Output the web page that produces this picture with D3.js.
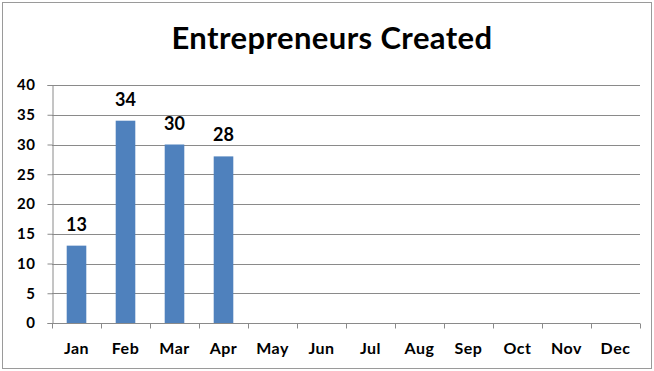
<!DOCTYPE html>
<html>
<head>
<meta charset="utf-8">
<script src="https://cdn.jsdelivr.net/npm/d3@7"></script>
<style>
  html, body { margin: 0; padding: 0; background: #fff; }
  svg { display: block; }
  text { font-family: Lato, "Open Sans", sans-serif; font-weight: bold; fill: #000; }
</style>
</head>
<body>
<svg id="chart" width="654" height="371"></svg>
<script>
const months = ["Jan", "Feb", "Mar", "Apr", "May", "Jun", "Jul", "Aug", "Sep", "Oct", "Nov", "Dec"];
const created = [13, 34, 30, 28, null, null, null, null, null, null, null, null];
const yTicks = [0, 5, 10, 15, 20, 25, 30, 35, 40];
const chartTitle = "Entrepreneurs Created";

const svg = d3.select("#chart");
const W = 654, H = 371;
const margin = { left: 52, right: 14, top: 85, bottom: 48 };

// outer frame
svg.append("rect")
  .attr("x", 2.5).attr("y", 2.5)
  .attr("width", W - 5).attr("height", H - 5)
  .attr("fill", "#fff").attr("stroke", "#9a9a9a").attr("stroke-width", 1);

svg.append("text")
  .attr("x", 332).attr("y", 49)
  .attr("text-anchor", "middle")
  .style("font-size", "31px")
  .style("letter-spacing", "0.4px")
  .text(chartTitle);

const x = d3.scaleBand()
  .domain(months)
  .range([margin.left, W - margin.right])
  .paddingInner(0.6).paddingOuter(0.3);

const y = d3.scaleLinear()
  .domain([0, 40])
  .range([H - margin.bottom, margin.top]);

// horizontal gridlines
svg.append("g")
  .selectAll("line")
  .data(yTicks.filter(d => d > 0))
  .join("line")
  .attr("x1", margin.left).attr("x2", W - margin.right)
  .attr("y1", d => Math.round(y(d)) + 0.5).attr("y2", d => Math.round(y(d)) + 0.5)
  .attr("stroke", "#8a8a8a").attr("stroke-width", 1);

const points = months.map((m, i) => ({ m, v: created[i] })).filter(d => d.v != null);

// bars
svg.append("g")
  .selectAll("rect")
  .data(points)
  .join("rect")
  .attr("x", d => x(d.m))
  .attr("width", x.bandwidth())
  .attr("y", d => y(d.v))
  .attr("height", d => y(0) - y(d.v))
  .attr("fill", "#4f81bd");

// value labels
svg.append("g")
  .selectAll("text")
  .data(points)
  .join("text")
  .attr("x", d => x(d.m) + x.bandwidth() / 2)
  .attr("y", d => y(d.v) - 15)
  .attr("text-anchor", "middle")
  .style("font-size", "18px")
  .text(d => d.v);

// y axis
const yAxis = svg.append("g")
  .attr("transform", `translate(${margin.left + 0.5},0)`)
  .call(d3.axisLeft(y).tickValues(yTicks).tickSize(5).tickPadding(12));
yAxis.selectAll("text").style("font-size", "15px").style("letter-spacing", "0.5px");
yAxis.select(".domain").attr("stroke", "#8a8a8a");
yAxis.selectAll(".tick line").attr("stroke", "#8a8a8a");

// x axis with ticks at category boundaries
const xAxisG = svg.append("g")
  .attr("transform", `translate(0,${Math.round(y(0)) + 0.5})`);
xAxisG.append("line")
  .attr("x1", margin.left).attr("x2", W - margin.right)
  .attr("stroke", "#8a8a8a");
const step = x.step();
const x0 = margin.left;
xAxisG.selectAll("line.tick")
  .data(d3.range(months.length + 1))
  .join("line")
  .attr("class", "tick")
  .attr("x1", i => Math.round(x0 + i * step) + 0.5)
  .attr("x2", i => Math.round(x0 + i * step) + 0.5)
  .attr("y1", 0).attr("y2", 5)
  .attr("stroke", "#8a8a8a");
xAxisG.selectAll("text")
  .data(months)
  .join("text")
  .attr("x", d => x(d) + x.bandwidth() / 2)
  .attr("y", 30)
  .attr("text-anchor", "middle")
  .style("font-size", "16px")
  .style("letter-spacing", "0.5px")
  .text(d => d);
</script>
</body>
</html>
